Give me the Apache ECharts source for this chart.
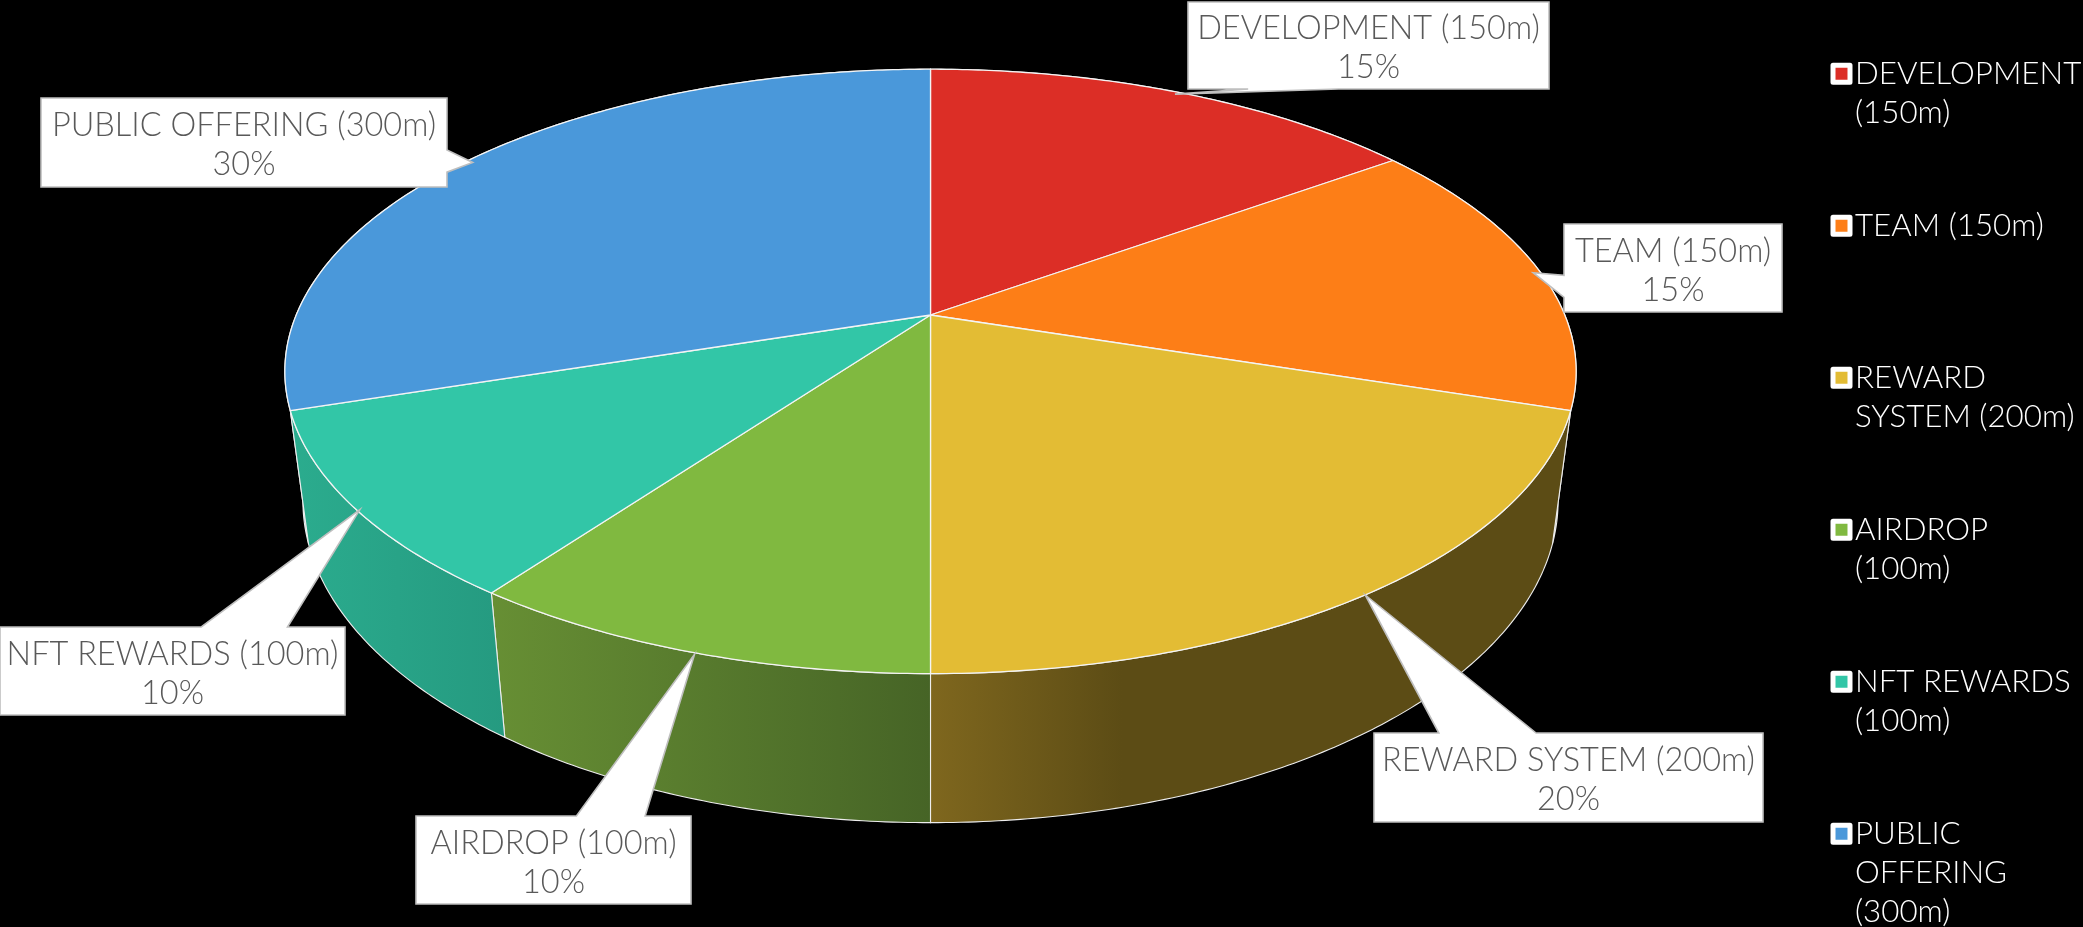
<!DOCTYPE html>
<html><head><meta charset="utf-8">
<style>html,body{margin:0;padding:0;background:#000;overflow:hidden}#c{width:2083px;height:927px}</style>
<script src="https://cdn.jsdelivr.net/npm/echarts@6/dist/echarts.min.js"></script>
</head><body><div id="c"></div>
<script>
const categories = ['DEVELOPMENT (150m)','TEAM (150m)','REWARD SYSTEM (200m)','AIRDROP (100m)','NFT REWARDS (100m)','PUBLIC OFFERING (300m)'];
const tokens = [150,150,200,100,100,300];
const legendLines = [['DEVELOPMENT','(150m)'],['TEAM (150m)'],['REWARD','SYSTEM (200m)'],['AIRDROP','(100m)'],['NFT REWARDS','(100m)'],['PUBLIC','OFFERING','(300m)']];

// styles and layout, separate from the values
const topColors = ['#DC2E26','#FD7E17','#E3BC34','#80B940','#32C6A7','#4A98DA'];
const sideStops = [
  [[0,'#8a2019'],[1,'#6e1a14']],
  [[0,'#5C4C15'],[1,'#5C4C15']],
  [[0,'#7F671E'],[0.3,'#5C4C15'],[1,'#5C4C15']],
  [[0,'#678F34'],[1,'#466426']],
  [[0,'#2BAC8E'],[1,'#259A80']],
  [[0,'#3C7DB4'],[1,'#3C7DB4']]
];
const boxes = [
  {x:1188,y:2,w:361,h:87,edge:'bottom',near:true},
  {x:1564,y:224,w:218,h:88,edge:'left'},
  {x:1374,y:733,w:389,h:89,edge:'top',near:true},
  {x:416,y:816,w:275,h:88,edge:'top',near:false},
  {x:0,y:627,w:345,h:88,edge:'top',near:false},
  {x:41,y:98,w:406,h:89,edge:'right'}
];
const TOP = {cx:930.5,cy:315,a:634.3,b:291.7,k:0.1867};
const BASE = {cx:930.5,cy:442,a:617,b:311,k:0.183};
const LEGEND_X = 1830.5, LEGEND_Y0 = 73.7, LEGEND_STEP = 152, LINE = 39;
const FONT_FAMILY = 'Lato';
const LABEL_FONT = 32.5, LEGEND_FONT = 31.3, TEXT_DY = 3, TIP_X = 0.99, TIP_DY = 2;

const total = tokens.reduce((a,b)=>a+b,0);
function angleAt(i){ let s=0; for(let j=0;j<i;j++) s+=tokens[j]; return s/total*Math.PI*2; }
function proj(p,th){ const s=Math.sin(th),c=Math.cos(th),w=1+p.k*c; return [p.cx+p.a*s/w, p.cy-p.b*c/w]; }
function arc(p,t0,t1){ const n=Math.max(2,Math.ceil(Math.abs(t1-t0)/0.01)),o=[]; for(let i=0;i<=n;i++) o.push(proj(p,t0+(t1-t0)*i/n)); return o; }

const series = [];
// rim faces
series.push({
  type:'custom', name:'rim', coordinateSystem:'none', z:2, silent:true,
  data: tokens.map((v,i)=>[i,v]),
  renderItem(params,api){
    const i=api.value(0), t0=angleAt(i), t1=t0+api.value(1)/total*Math.PI*2;
    const pts=arc(TOP,t0,t1).concat(arc(BASE,t1,t0));
    return {type:'polygon',shape:{points:pts},z2:Math.cos((t0+t1)/2)>0?0:1,style:{
      fill:{type:'linear',x:0,y:0,x2:1,y2:0,colorStops:sideStops[i].map(s=>({offset:s[0],color:s[1]}))},
      stroke:'#EDEDED',lineWidth:1.1}};
  }
});
// top slices: one series per category so the legend is native
categories.forEach((name,i)=>{
  series.push({
    type:'custom', name, coordinateSystem:'none', z:3, silent:true,
    itemStyle:{color:topColors[i]},
    data:[[tokens[i]]],
    renderItem(params,api){
      const t0=angleAt(i), t1=t0+api.value(0)/total*Math.PI*2;
      const pts=[[TOP.cx,TOP.cy]].concat(arc(TOP,t0,t1));
      return {type:'polygon',shape:{points:pts},style:{fill:topColors[i],stroke:'#F4F4F4',lineWidth:1.3,lineJoin:'round'}};
    }
  });
});
// callouts
series.push({
  type:'custom', name:'labels', coordinateSystem:'none', z:4, silent:true,
  data: tokens.map((v,i)=>[i,v]),
  renderItem(params,api){
    const i=api.value(0), b=boxes[i];
    const t0=angleAt(i), mid=t0+api.value(1)/total*Math.PI;
    const rim=proj(TOP,mid);
    const tip=[TOP.cx+(rim[0]-TOP.cx)*TIP_X, rim[1]+TIP_DY];
    const L=b.x,R=b.x+b.w,T=b.y,B=b.y+b.h;
    const fx0=b.near?1/6:7/12, fx1=b.near?5/12:5/6, fy0=7/12, fy1=5/6;
    let pts;
    if(b.edge==='bottom') pts=[[L,T],[R,T],[R,B],[L+b.w*fx1,B],tip,[L+b.w*fx0,B],[L,B]];
    if(b.edge==='top') pts=[[L,T],[L+b.w*fx0,T],tip,[L+b.w*fx1,T],[R,T],[R,B],[L,B]];
    if(b.edge==='left') pts=[[L,T],[R,T],[R,B],[L,B],[L,T+b.h*fy1],tip,[L,T+b.h*fy0]];
    if(b.edge==='right') pts=[[L,T],[R,T],[R,T+b.h*fy0],tip,[R,T+b.h*fy1],[R,B],[L,B]];
    const cx=(L+R)/2, cy=(T+B)/2+TEXT_DY;
    const font='300 '+LABEL_FONT+'px '+FONT_FAMILY;
    return {type:'group',children:[
      {type:'polygon',shape:{points:pts},style:{fill:'#FFFFFF',stroke:'#BFBFBF',lineWidth:1.6,lineJoin:'miter'}},
      {type:'text',style:{text:categories[i],x:cx,y:cy-LINE/2,textAlign:'center',textVerticalAlign:'middle',fill:'#595959',font}},
      {type:'text',style:{text:Math.round(api.value(1)/total*100)+'%',x:cx,y:cy+LINE/2,textAlign:'center',textVerticalAlign:'middle',fill:'#595959',font}}
    ]};
  }
});

const legends = categories.map((name,i)=>{
  const lines=legendLines[i], pad=lines.length-1, total_=lines.length+pad;
  return {
    show:true, orient:'vertical', selectedMode:false, padding:0,
    left:LEGEND_X, top:LEGEND_Y0+LEGEND_STEP*i-total_*LINE/2,
    data:[name], icon:'rect', itemWidth:17, itemHeight:17,
    itemStyle:{borderColor:'#FFFFFF',borderWidth:5,borderJoin:'round'},
    formatter:()=>'\n'.repeat(pad)+lines.join('\n'),
    textStyle:{color:'#FFFFFF',fontFamily:FONT_FAMILY,fontSize:LEGEND_FONT,fontWeight:300,lineHeight:LINE}
  };
});

const chart=echarts.init(document.getElementById('c'),null,{renderer:'canvas',width:2083,height:927});
chart.setOption({animation:false,backgroundColor:'#000000',legend:legends,series});
</script></body></html>
